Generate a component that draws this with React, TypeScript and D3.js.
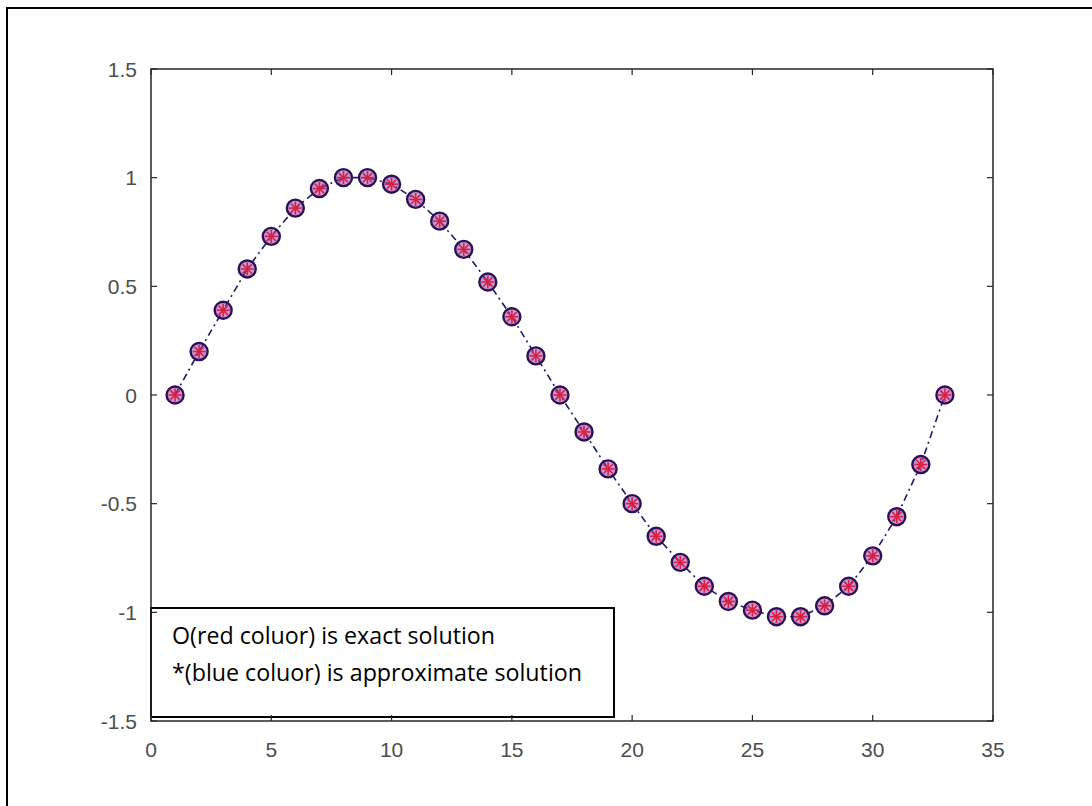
import React from "react";
import * as d3 from "d3";

const xValues = [1, 2, 3, 4, 5, 6, 7, 8, 9, 10, 11, 12, 13, 14, 15, 16, 17, 18, 19, 20, 21, 22, 23, 24, 25, 26, 27, 28, 29, 30, 31, 32, 33];
const exactValues = [0, 0.2, 0.39, 0.58, 0.73, 0.86, 0.95, 1.0, 1.0, 0.97, 0.9, 0.8, 0.67, 0.52, 0.36, 0.18, 0, -0.17, -0.34, -0.5, -0.65, -0.77, -0.88, -0.95, -0.99, -1.02, -1.02, -0.97, -0.88, -0.74, -0.56, -0.32, 0];
const approxValues = [0, 0.2, 0.39, 0.58, 0.73, 0.86, 0.95, 1.0, 1.0, 0.97, 0.9, 0.8, 0.67, 0.52, 0.36, 0.18, 0, -0.17, -0.34, -0.5, -0.65, -0.77, -0.88, -0.95, -0.99, -1.02, -1.02, -0.97, -0.88, -0.74, -0.56, -0.32, 0];
const xTicks = [0, 5, 10, 15, 20, 25, 30, 35];
const yTicks = [-1.5, -1, -0.5, 0, 0.5, 1, 1.5];
const legendLines = ["O(red coluor) is exact solution", "*(blue coluor) is approximate solution"];

const W = 1092;
const H = 806;
const left = 151;
const right = 993;
const top = 69;
const bottom = 721;

export default function App() {
  const x = d3.scaleLinear().domain([0, 35]).range([left, right]);
  const y = d3.scaleLinear().domain([-1.5, 1.5]).range([bottom, top]);
  const line = d3
    .line<number>()
    .x((_, i) => x(xValues[i]))
    .y((d) => y(d));
  const tick = 6;
  const axisColor = "#262626";
  const labelColor = "#4d4d4d";
  const font = "'Liberation Sans', Arial, sans-serif";
  const r = 8.5;
  const a = 6.5;
  return (
    <svg
      width={W}
      height={H}
      style={{ position: "absolute", left: 0, top: 0, display: "block", background: "#fff" }}
    >
      <rect x={0} y={0} width={W} height={H} fill="#fff" />
      {/* outer frame */}
      <rect x={7} y={8} width={W + 20} height={H + 20} fill="none" stroke="#000" strokeWidth={2} />
      {/* legend box */}
      <rect x={151} y={608} width={463} height={109} fill="#fff" stroke="#000" strokeWidth={2} />
      {legendLines.map((t, i) => (
        <text
          key={i}
          x={172}
          y={644 + i * 37}
          fontFamily="'Open Sans', 'Noto Sans', sans-serif"
          fontSize={24}
          fill="#000"
          textLength={i === 0 ? 323 : 410}
          lengthAdjust="spacingAndGlyphs"
        >
          {t}
        </text>
      ))}
      {/* axes box */}
      <rect x={left} y={top} width={right - left} height={bottom - top} fill="none" stroke={axisColor} strokeWidth={1.5} />
      {xTicks.map((t) => (
        <g key={"xt" + t}>
          <line x1={x(t)} x2={x(t)} y1={bottom} y2={bottom - tick} stroke={axisColor} strokeWidth={1.2} />
          <line x1={x(t)} x2={x(t)} y1={top} y2={top + tick} stroke={axisColor} strokeWidth={1.2} />
          <text x={x(t)} y={757} textAnchor="middle" fontFamily={font} fontSize={21} fill={labelColor}>
            {t}
          </text>
        </g>
      ))}
      {yTicks.map((t) => (
        <g key={"yt" + t}>
          <line x1={left} x2={left + tick} y1={y(t)} y2={y(t)} stroke={axisColor} strokeWidth={1.2} />
          <line x1={right} x2={right - tick} y1={y(t)} y2={y(t)} stroke={axisColor} strokeWidth={1.2} />
          <text x={137} y={y(t) + 7.5} textAnchor="end" fontFamily={font} fontSize={21} fill={labelColor}>
            {t}
          </text>
        </g>
      ))}
      {/* connecting dash-dot line */}
      <path d={line(approxValues) || ""} fill="none" stroke="#1c1c6b" strokeWidth={1.6} strokeDasharray="7 4 2 4" />
      {/* exact: red circles */}
      {exactValues.map((v, i) => (
        <circle
          key={"c" + i}
          cx={x(xValues[i])}
          cy={y(v)}
          r={r}
          fill="rgba(150,55,145,0.5)"
          stroke="#2e0f5c"
          strokeWidth={2.4}
        />
      ))}
      {/* approximate: asterisks */}
      {approxValues.map((v, i) => {
        const cx = x(xValues[i]);
        const cy = y(v);
        const d = a * 0.707;
        return (
          <g key={"s" + i} stroke="#d81f4a" strokeWidth={1.6}>
            <line x1={cx - a} x2={cx + a} y1={cy} y2={cy} />
            <line x1={cx} x2={cx} y1={cy - a} y2={cy + a} />
            <line x1={cx - d} x2={cx + d} y1={cy - d} y2={cy + d} />
            <line x1={cx - d} x2={cx + d} y1={cy + d} y2={cy - d} />
          </g>
        );
      })}
    </svg>
  );
}
